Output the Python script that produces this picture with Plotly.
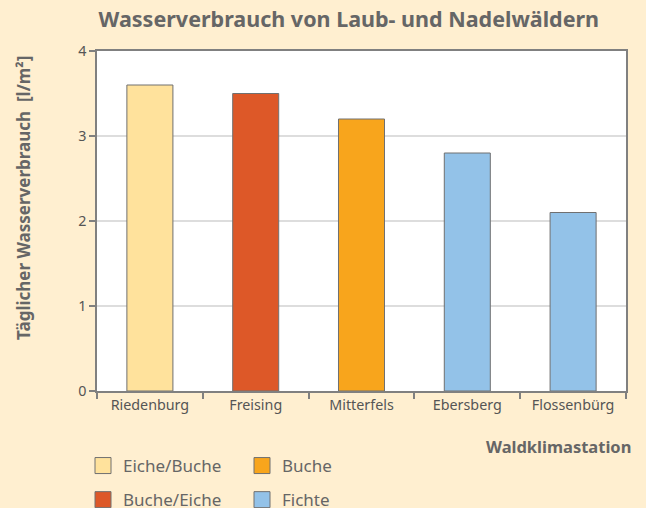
import plotly.graph_objects as go

stations = ["Riedenburg", "Freising", "Mitterfels", "Ebersberg", "Flossenbürg"]
forest_types = ["Eiche/Buche", "Buche/Eiche", "Buche", "Fichte"]
type_of_station = ["Eiche/Buche", "Buche/Eiche", "Buche", "Fichte", "Fichte"]
consumption = [3.6, 3.5, 3.2, 2.8, 2.1]
colors = {"Eiche/Buche": "#FFE29C", "Buche/Eiche": "#DD5828",
          "Buche": "#F8A51C", "Fichte": "#93C2E8"}
legend_of_type = {"Eiche/Buche": "legend", "Buche/Eiche": "legend",
                  "Buche": "legend2", "Fichte": "legend2"}

FONT = "Noto Sans"
GRAY = "#666666"
EDGE = "#707070"

# plot area in pixels: x 97..626, y 51..391
PL, PR, PT, PB = 97, 626, 51, 391
PW, PH = PR - PL, PB - PT

def px_x(x):
    return (x - PL) / PW

def px_y(y):
    return (PB - y) / PH

fig = go.Figure()
for t in forest_types:
    xs = [s for s, tt in zip(stations, type_of_station) if tt == t]
    ys = [v for v, tt in zip(consumption, type_of_station) if tt == t]
    fig.add_trace(go.Bar(
        x=xs, y=ys, name=t, legendgroup=t, showlegend=False,
        width=0.435,
        marker=dict(color=colors[t], line=dict(color=EDGE, width=1)),
    ))
    # legend entry (larger square swatch than the default bar symbol)
    fig.add_trace(go.Scatter(
        x=[None], y=[None], mode="markers", name=t, legendgroup=t,
        legend=legend_of_type[t],
        marker=dict(symbol="square", size=16, color=colors[t],
                    line=dict(color=EDGE, width=1)),
    ))

legend_common = dict(xanchor="left", yanchor="top", orientation="v",
                     font=dict(size=17, color=GRAY), tracegroupgap=9,
                     bgcolor="rgba(0,0,0,0)", itemclick=False,
                     itemsizing="trace")

fig.update_layout(
    width=646, height=508,
    paper_bgcolor="#FFEFD0", plot_bgcolor="#FFFFFF",
    barmode="overlay",
    margin=dict(l=PL, r=646 - PR, t=PT, b=508 - PB, autoexpand=False),
    font=dict(family=FONT, color=GRAY),
    title=dict(text="<b>Wasserverbrauch von Laub- und Nadelwäldern</b>",
               x=0.54, xanchor="center", xref="container",
               y=1 - 19 / 508, yanchor="middle", yref="container",
               font=dict(size=21.5, color=GRAY, family=FONT)),
    showlegend=True,
    legend=dict(x=px_x(83), y=px_y(448), **legend_common),
    legend2=dict(x=px_x(242), y=px_y(448), **legend_common),
)

fig.update_xaxes(
    categoryorder="array", categoryarray=stations,
    showline=True, linecolor="#808080", linewidth=1.5, mirror=True,
    ticks="outside", tickson="boundaries", ticklen=6, tickcolor="#808080",
    tickwidth=1.5, tickfont=dict(size=14.3, color="#555555"), tickangle=0,
    showgrid=False,
)
fig.update_yaxes(
    range=[0, 4], dtick=1,
    showline=True, linecolor="#808080", linewidth=1.5, mirror=True,
    ticks="outside", ticklen=6, tickcolor="#808080", tickwidth=1.5,
    tickfont=dict(size=14.3, color="#555555"),
    showgrid=True, gridcolor="#DDDDDD", gridwidth=1.5, zeroline=False,
)

fig.add_annotation(text="<b>Täglicher Wasserverbrauch  [l/m²]</b>",
                   xref="paper", yref="paper", x=px_x(23), y=px_y(198),
                   xanchor="center", yanchor="middle", textangle=-90,
                   showarrow=False, font=dict(size=17, color=GRAY))
fig.add_annotation(text="<b>Waldklimastation</b>",
                   xref="paper", yref="paper", x=px_x(633), y=px_y(446),
                   xanchor="right", yanchor="middle",
                   showarrow=False, font=dict(size=16.5, color=GRAY))

fig.write_html("out.html", config={"displayModeBar": False},
               post_script="document.body.style.margin='0';")
